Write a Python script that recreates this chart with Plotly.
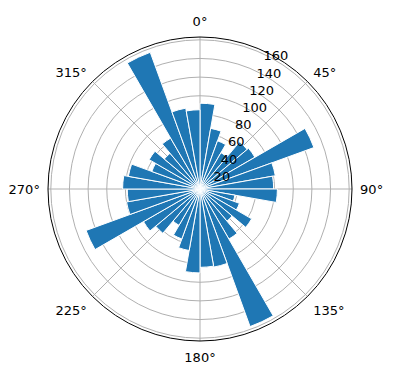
import plotly.graph_objects as go

# bin start angles (degrees, clockwise from north) and bar heights
bin_starts = list(range(0, 360, 10))
values = [92, 66, 55, 45, 66, 68, 130, 82, 79,
          83, 38, 45, 64, 45, 62, 157, 85, 84,
          90, 67, 57, 45, 62, 70, 130, 80, 78,
          83, 78, 55, 63, 50, 63, 156, 88, 85]
bin_width = 10
radial_ticks = [20, 40, 60, 80, 100, 120, 140, 160]
angle_ticks = [0, 45, 90, 135, 180, 225, 270, 315]

centers = [b + bin_width / 2 for b in bin_starts]

fig = go.Figure(go.Barpolar(
    r=values, theta=centers, width=[bin_width] * len(values),
    marker=dict(color="#1f77b4", line=dict(color="white", width=1)),
))

W, H = 396, 380
cx, cy, R = 200, 189, 152
fig.update_layout(
    width=W, height=H, margin=dict(l=0, r=0, t=0, b=0),
    paper_bgcolor="white", showlegend=False,
    font=dict(family="DejaVu Sans", size=13, color="black"),
    polar=dict(
        domain=dict(x=[(cx - R) / W, (cx + R) / W],
                    y=[(H - cy - R) / H, (H - cy + R) / H]),
        bgcolor="white",
        bargap=0,
        angularaxis=dict(direction="clockwise", rotation=90,
                         tickmode="array", tickvals=angle_ticks,
                         ticktext=[f"{a}°" for a in angle_ticks],
                         showgrid=True, gridcolor="#b0b0b0", gridwidth=1,
                         showline=True, linecolor="black", linewidth=1,
                         ticks="outside", ticklen=5, tickcolor="rgba(0,0,0,0)",
                         layer="above traces"),
        radialaxis=dict(range=[0, 163], tickmode="array", tickvals=radial_ticks,
                        showgrid=True, gridcolor="#b0b0b0", gridwidth=1,
                        showline=False, ticks="", angle=67.5, tickangle=67.5,
                        side="clockwise",
                        layer="above traces"),
    ),
)
fig.write_html("out.html")
